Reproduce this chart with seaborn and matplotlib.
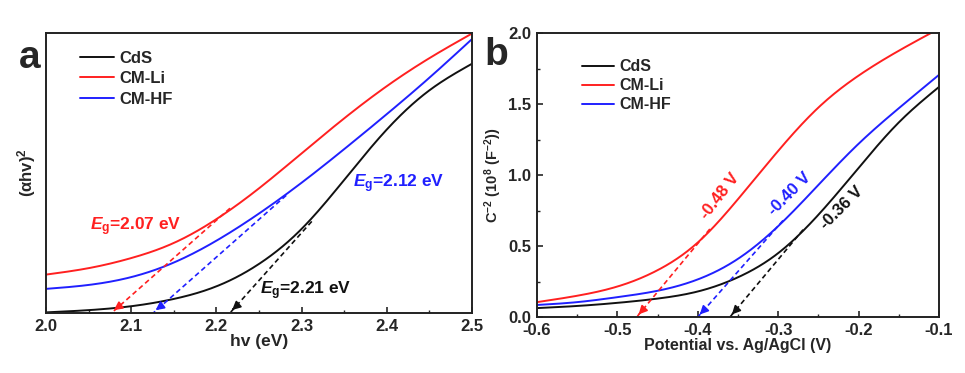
import matplotlib
matplotlib.use("Agg")
import matplotlib.pyplot as plt
import numpy as np
import pandas as pd
import seaborn as sns
from matplotlib.ticker import MultipleLocator, NullLocator

# ---- panel a: Tauc plot ----
hv = [2.0, 2.05, 2.1, 2.15, 2.2, 2.25, 2.3, 2.35, 2.4, 2.45, 2.5]
tauc_cds = [0.002, 0.010, 0.024, 0.050, 0.095, 0.175, 0.300, 0.475, 0.655, 0.795, 0.890]
tauc_li = [0.137, 0.160, 0.196, 0.250, 0.335, 0.445, 0.570, 0.695, 0.810, 0.910, 0.998]
tauc_hf = [0.086, 0.100, 0.128, 0.180, 0.258, 0.355, 0.465, 0.585, 0.710, 0.840, 0.978]
# tangent lines (start x, start y, intercept x)
tan_a = {'CdS': (2.312, 0.327, 2.216), 'CM-Li': (2.216, 0.374, 2.077), 'CM-HF': (2.282, 0.420, 2.126)}
eg_labels = {'CdS': (2.251, 0.065, '2.21'), 'CM-Li': (2.052, 0.297, '2.07'), 'CM-HF': (2.36, 0.45, '2.12')}

# ---- panel b: Mott-Schottky ----
pot = [-0.6, -0.55, -0.5, -0.45, -0.4, -0.35, -0.3, -0.25, -0.2, -0.15, -0.1]
ms_cds = [0.063, 0.078, 0.100, 0.130, 0.180, 0.280, 0.450, 0.720, 1.050, 1.370, 1.620]
ms_li = [0.105, 0.150, 0.215, 0.330, 0.525, 0.830, 1.170, 1.475, 1.700, 1.875, 2.030]
ms_hf = [0.085, 0.105, 0.140, 0.185, 0.265, 0.410, 0.640, 0.930, 1.220, 1.470, 1.705]
tan_b = {'CdS': (-0.269, 0.615, -0.36), 'CM-Li': (-0.385, 0.62, -0.476), 'CM-HF': (-0.294, 0.68, -0.40)}
fb_labels = {'CdS': (-0.221, 0.77, '-0.36 V', 45), 'CM-Li': (-0.373, 0.85, '-0.48 V', 52),
             'CM-HF': (-0.286, 0.87, '-0.40 V', 45)}

samples = ['CdS', 'CM-Li', 'CM-HF']
colors = {'CdS': '#111111', 'CM-Li': '#ff2020', 'CM-HF': '#2020ff'}

sns.set_style('ticks')
plt.rcParams['font.family'] = ['Liberation Sans', 'DejaVu Sans']
plt.rcParams['font.weight'] = 'bold'
plt.rcParams['axes.labelweight'] = 'bold'
plt.rcParams['axes.unicode_minus'] = False
plt.rcParams['mathtext.fontset'] = 'custom'
plt.rcParams['mathtext.rm'] = 'Liberation Sans:bold'
plt.rcParams['mathtext.it'] = 'Liberation Sans:bold:italic'
plt.rcParams['mathtext.bf'] = 'Liberation Sans:bold'

fig = plt.figure(figsize=(9.65, 3.73), dpi=100)
ax1 = fig.add_axes([0.0477, 0.161, 0.4413, 0.7505])
ax2 = fig.add_axes([0.5565, 0.150, 0.4165, 0.7615])


def spline(x, y, xs):
    # natural cubic spline through the read-off points
    x = np.asarray(x, float)
    y = np.asarray(y, float)
    n = len(x)
    h = np.diff(x)
    A = np.zeros((n, n))
    r = np.zeros(n)
    A[0, 0] = A[-1, -1] = 1
    for i in range(1, n - 1):
        A[i, i - 1] = h[i - 1]
        A[i, i] = 2 * (h[i - 1] + h[i])
        A[i, i + 1] = h[i]
        r[i] = 6 * ((y[i + 1] - y[i]) / h[i] - (y[i] - y[i - 1]) / h[i - 1])
    M = np.linalg.solve(A, r)
    idx = np.clip(np.searchsorted(x, xs) - 1, 0, n - 2)
    a = x[idx + 1] - xs
    b = xs - x[idx]
    hh = h[idx]
    return (M[idx] * a ** 3 / (6 * hh) + M[idx + 1] * b ** 3 / (6 * hh)
            + (y[idx] / hh - M[idx] * hh / 6) * a + (y[idx + 1] / hh - M[idx + 1] * hh / 6) * b)


def curves(x, ys):
    out = []
    xs = np.linspace(min(x), max(x), 300)
    for s, y in zip(samples, ys):
        out.append(pd.DataFrame({'x': xs, 'y': spline(x, y, xs), 'sample': s}))
    return pd.concat(out)


sns.lineplot(data=curves(hv, [tauc_cds, tauc_li, tauc_hf]), x='x', y='y', hue='sample',
             palette=colors, ax=ax1, lw=1.4)
sns.lineplot(data=curves(pot, [ms_cds, ms_li, ms_hf]), x='x', y='y', hue='sample',
             palette=colors, ax=ax2, lw=1.4)


def tangent(ax, x0, y0, x1, c):
    ax.plot([x0, x1], [y0, 0], ls=(0, (3, 2)), color=c, lw=1.2)
    dx = (x1 - x0) * 0.06
    dy = (0 - y0) * 0.06
    ax.annotate('', xy=(x1, 0.004), xytext=(x1 - dx, -dy),
                arrowprops=dict(arrowstyle='-|>,head_length=0.5,head_width=0.25', color=c, lw=1.2))


for s in samples:
    tangent(ax1, *tan_a[s], colors[s])
    x, y, v = eg_labels[s]
    ax1.text(x, y, '$\\mathit{E}_\\mathrm{g}$=' + v + ' eV', color=colors[s], fontsize=12.5, fontweight='bold')
    tangent(ax2, *tan_b[s], colors[s])
    x, y, t, r = fb_labels[s]
    ax2.text(x, y, t, color=colors[s], fontsize=12, fontweight='bold', rotation=r,
             ha='center', va='center')

ax1.set_xlim(2.0, 2.5)
ax1.set_ylim(0, 1.0)
ax1.xaxis.set_major_locator(MultipleLocator(0.1))
ax1.xaxis.set_minor_locator(MultipleLocator(0.05))
ax1.yaxis.set_major_locator(NullLocator())
ax1.set_xlabel('hv (eV)', fontsize=12.5, labelpad=0)
ax1.set_ylabel('(αhv)$^2$', fontsize=12, labelpad=6)

ax2.set_xlim(-0.6, -0.1)
ax2.set_ylim(0, 2.0)
ax2.xaxis.set_major_locator(MultipleLocator(0.1))
ax2.xaxis.set_minor_locator(MultipleLocator(0.05))
ax2.yaxis.set_major_locator(MultipleLocator(0.5))
ax2.yaxis.set_minor_locator(MultipleLocator(0.25))
ax2.set_xlabel('Potential vs. Ag/AgCl (V)', fontsize=11.5, labelpad=0)
ax2.set_ylabel('C$^{-2}$ (10$^{8}$ (F$^{-2}$))', fontsize=10.5, labelpad=3)

for ax in (ax1, ax2):
    for sp in ax.spines.values():
        sp.set_linewidth(1.4)
        sp.set_color('#222222')
    ax.tick_params(which='major', direction='in', length=4, width=1.2, labelsize=12, pad=4)
    ax.tick_params(which='minor', direction='in', length=2.5, width=1.0)
    for lb in ax.get_xticklabels() + ax.get_yticklabels():
        lb.set_fontweight('bold')

leg1 = ax1.legend(loc='upper left', bbox_to_anchor=(0.065, 0.96), frameon=False, fontsize=12,
                  handlelength=2.0, handletextpad=0.35, labelspacing=0.32, borderaxespad=0)
leg2 = ax2.legend(loc='upper left', bbox_to_anchor=(0.095, 0.93), frameon=False, fontsize=11.5,
                  handlelength=2.0, handletextpad=0.35, labelspacing=0.25, borderaxespad=0)
for leg in (leg1, leg2):
    for t in leg.get_texts():
        t.set_fontweight('bold')

fig.text(0.020, 0.818, 'a', fontsize=28, fontweight='bold')
fig.text(0.502, 0.826, 'b', fontsize=28, fontweight='bold')

fig.savefig('out.png', dpi=100)
